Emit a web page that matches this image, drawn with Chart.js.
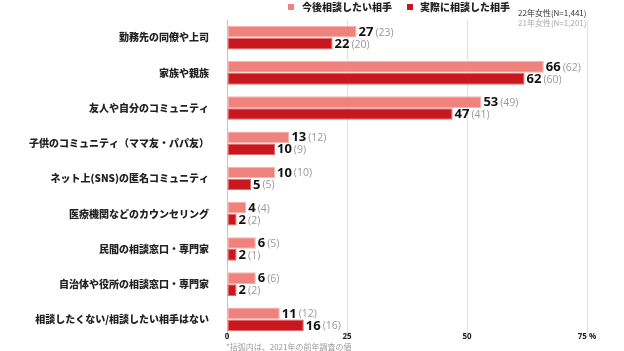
<!DOCTYPE html>
<html>
<head>
<meta charset="utf-8">
<script src="https://cdn.jsdelivr.net/npm/chart.js@4.4.1/dist/chart.umd.min.js"></script>
<style>
  html, body { margin: 0; padding: 0; background: #fff; }
  #wrap { width: 624px; height: 351px; position: relative; }
</style>
</head>
<body>
<div id="wrap"><canvas id="myChart"></canvas></div>
<script>
// data
var categories = ['勤務先の同僚や上司', '家族や親族', '友人や自分のコミュニティ', '子供のコミュニティ（ママ友・パパ友）',
    'ネット上(SNS)の匿名コミュニティ', '医療機関などのカウンセリング', '民間の相談窓口・専門家',
    '自治体や役所の相談窓口・専門家', '相談したくない/相談したい相手はない'];
var wantNow = [27, 66, 53, 13, 10, 4, 6, 6, 11];
var wantPrev = [23, 62, 49, 12, 10, 4, 5, 6, 12];
var actualNow = [22, 62, 47, 10, 5, 2, 2, 2, 16];
var actualPrev = [20, 60, 41, 9, 5, 2, 1, 2, 16];
var xTicks = [0, 25, 50, 75];
var seriesNames = ['今後相談したい相手', '実際に相談した相手'];

var PINK = '#f0827d';
var RED = '#c9171e';
var JP = '"Noto Sans CJK JP", "Noto Sans", sans-serif';
var NUM = '"Open Sans", "Noto Sans", sans-serif';

var labelPlugin = {
    id: 'labels',
    afterDatasetsDraw: function (chart) {
        var ctx = chart.ctx;
        var prev = [wantPrev, actualPrev];
        ctx.save();
        ctx.textBaseline = 'middle';
        chart.data.datasets.forEach(function (ds, di) {
            chart.getDatasetMeta(di).data.forEach(function (bar, i) {
                var x = bar.x + 2;
                ctx.font = 'bold 13px ' + NUM;
                ctx.fillStyle = '#111';
                ctx.textAlign = 'left';
                var t = String(ds.data[i]);
                ctx.fillText(t, x, bar.y + 0.5);
                x += ctx.measureText(t).width + 2;
                ctx.font = '10.5px ' + NUM;
                ctx.fillStyle = '#999';
                ctx.fillText('(' + prev[di][i] + ')', x, bar.y + 1);
            });
        });
        ctx.restore();
    },
    afterDraw: function (chart) {
        var ctx = chart.ctx;
        ctx.save();
        ctx.textBaseline = 'middle';
        // legend
        var items = [[288, 302, PINK], [407, 420, RED]];
        items.forEach(function (it, k) {
            ctx.fillStyle = it[2];
            ctx.fillRect(it[0], 4, 6, 6);
            ctx.font = '900 10px ' + JP;
            ctx.fillStyle = '#222';
            ctx.textAlign = 'left';
            ctx.fillText(seriesNames[k], it[1], 7.5);
        });
        // sample sizes
        ctx.font = '8px ' + JP;
        ctx.fillStyle = '#333';
        ctx.fillText('22年女性(N=1,441)', 518, 12.5);
        ctx.fillStyle = '#aaa';
        ctx.fillText('21年女性(N=1,201)', 518, 22.5);
        // footnote
        ctx.fillStyle = '#999';
        ctx.fillText('*括弧内は、2021年の前年調査の値', 226, 347);
        ctx.restore();
    }
};

var ctx = document.getElementById('myChart');
new Chart(ctx, {
    type: 'bar',
    data: {
        labels: categories,
        datasets: [{
            label: seriesNames[0],
            data: wantNow,
            backgroundColor: PINK,
            borderColor: '#f6b3ae',
            borderWidth: 1,
            borderSkipped: false
        }, {
            label: seriesNames[1],
            data: actualNow,
            backgroundColor: RED,
            borderColor: '#dd6a6e',
            borderWidth: 1,
            borderSkipped: false
        }]
    },
    options: {
        indexAxis: 'y',
        responsive: true,
        maintainAspectRatio: false,
        animation: false,
        layout: { padding: { top: 20, right: 37, left: 0, bottom: 14 } },
        plugins: {
            legend: { display: false },
            tooltip: { enabled: false }
        },
        datasets: {
            bar: { categoryPercentage: 0.68, barPercentage: 0.97 }
        },
        scales: {
            x: {
                min: 0,
                max: 75,
                afterBuildTicks: function (s) {
                    s.ticks = xTicks.map(function (v) { return { value: v }; });
                },
                grid: {
                    drawTicks: false,
                    color: function (c) { return c.tick && c.tick.value === 0 ? '#c4c4c4' : '#e2e2e2'; },
                    lineWidth: 1
                },
                border: { display: false },
                ticks: {
                    mirror: true,
                    padding: -5,
                    color: '#222',
                    font: { family: NUM, size: 8, weight: 'bold' },
                    callback: function (v) { return v === 75 ? '75 %' : v; }
                }
            },
            y: {
                grid: { display: false, drawTicks: true, tickLength: 18 },
                border: { display: false },
                afterFit: function (s) { s.width = 227; },
                ticks: {
                    padding: 0,
                    color: '#222',
                    autoSkip: false,
                    font: { family: JP, size: 10, weight: 900 }
                }
            }
        }
    },
    plugins: [labelPlugin]
});
</script>
</body>
</html>
